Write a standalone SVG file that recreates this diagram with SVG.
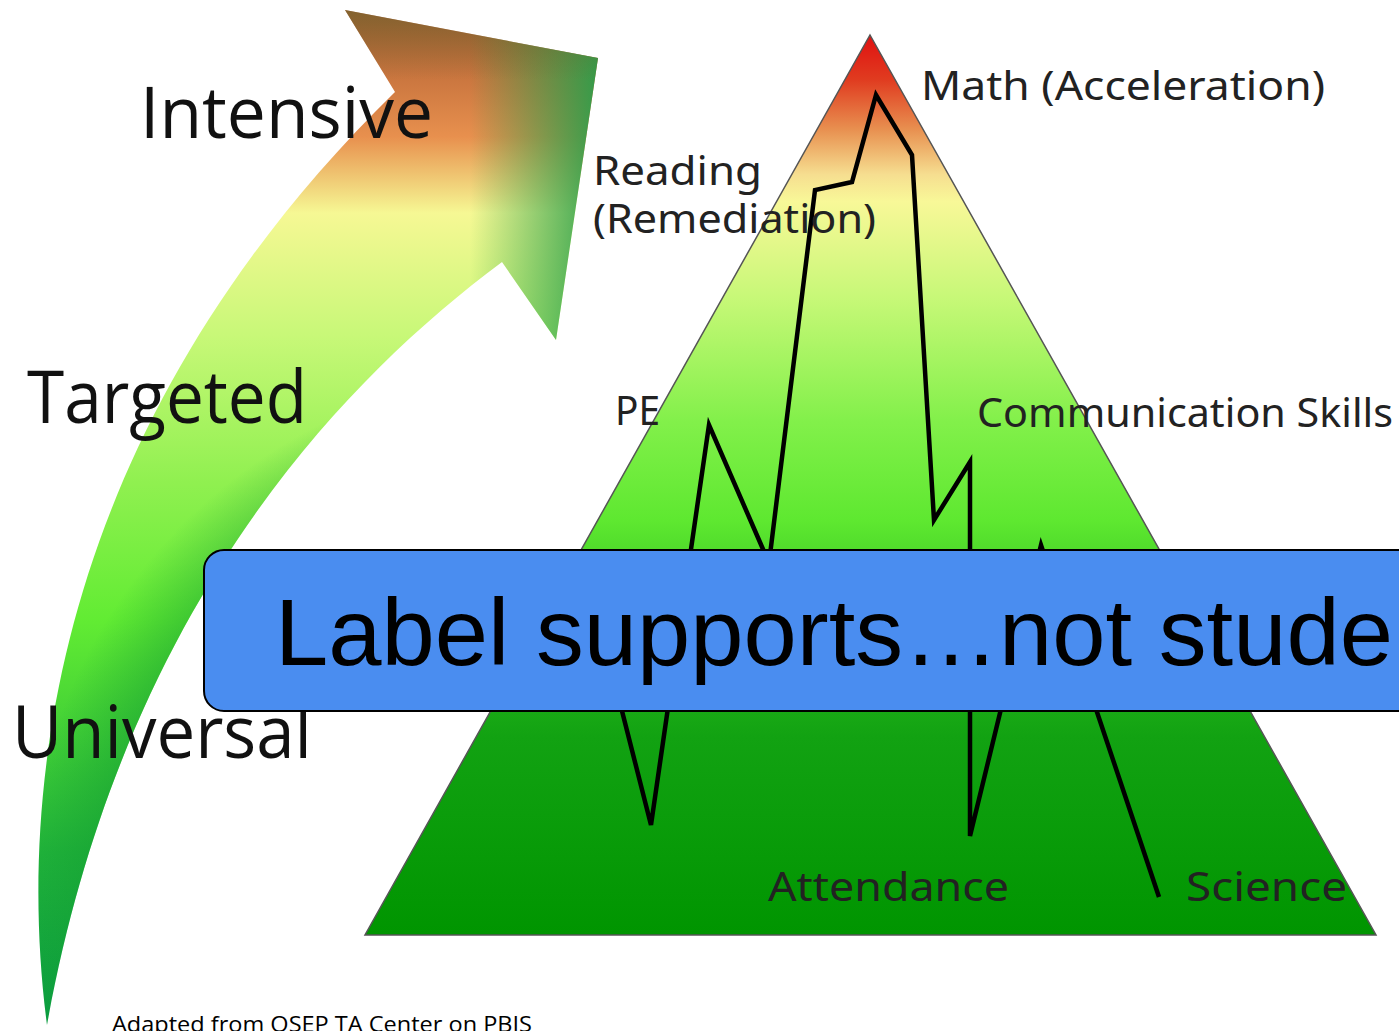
<svg xmlns="http://www.w3.org/2000/svg" width="1399" height="1031" viewBox="0 0 1399 1031">
  <style>
    .tier { font-family: "Open Sans", "Liberation Sans", sans-serif; fill: #111; }
    .lbl { font-family: "Noto Sans", "DejaVu Sans", sans-serif; fill: #222; font-size: 40px; }
    .zig { fill: none; stroke: #000; stroke-width: 4.5; stroke-linejoin: miter; stroke-linecap: butt; }
  </style>
  <defs>
    <linearGradient id="arrowGrad" gradientUnits="userSpaceOnUse" x1="0" y1="1025" x2="0" y2="10">
      <stop offset="0" stop-color="#0a9c40"/>
      <stop offset="0.17" stop-color="#20b23a"/>
      <stop offset="0.40" stop-color="#62ec33"/>
      <stop offset="0.535" stop-color="#90f050"/>
      <stop offset="0.68" stop-color="#c8f878"/>
      <stop offset="0.80" stop-color="#f6f894"/>
      <stop offset="0.875" stop-color="#e8904e"/>
      <stop offset="1" stop-color="#a8582e"/>
    </linearGradient>
    <linearGradient id="headRight" gradientUnits="userSpaceOnUse" x1="470" y1="0" x2="600" y2="0">
      <stop offset="0" stop-color="#2a9e4a" stop-opacity="0"/>
      <stop offset="1" stop-color="#2a9e4a" stop-opacity="0.95"/>
    </linearGradient>
    <linearGradient id="headTop" gradientUnits="userSpaceOnUse" x1="0" y1="10" x2="0" y2="80">
      <stop offset="0" stop-color="#6a6a30" stop-opacity="0.6"/>
      <stop offset="1" stop-color="#6a6a30" stop-opacity="0"/>
    </linearGradient>
    <radialGradient id="innerShade" gradientUnits="userSpaceOnUse" cx="560" cy="900" r="620">
      <stop offset="0.72" stop-color="#109a30" stop-opacity="0.55"/>
      <stop offset="0.86" stop-color="#109a30" stop-opacity="0"/>
    </radialGradient>
    <linearGradient id="pyrGrad" gradientUnits="userSpaceOnUse" x1="0" y1="35" x2="0" y2="935">
      <stop offset="0" stop-color="#e01010"/>
      <stop offset="0.05" stop-color="#e03c20"/>
      <stop offset="0.105" stop-color="#e89050"/>
      <stop offset="0.155" stop-color="#f6de90"/>
      <stop offset="0.185" stop-color="#f8f898"/>
      <stop offset="0.29" stop-color="#c8f878"/>
      <stop offset="0.43" stop-color="#82f04a"/>
      <stop offset="0.54" stop-color="#5ee830"/>
      <stop offset="0.65" stop-color="#30c020"/>
      <stop offset="0.78" stop-color="#12a212"/>
      <stop offset="1" stop-color="#009500"/>
    </linearGradient>
    <path id="arrowPath" d="M345,10 L598,58 L556,340 L502,262 C330,390 120,620 47,1025 C15,780 60,420 395,92 Z"/>
  </defs>

  <rect x="0" y="0" width="1399" height="1031" fill="#ffffff"/>

  <g id="arrow">
    <use href="#arrowPath" fill="url(#arrowGrad)"/>
    <use href="#arrowPath" fill="url(#innerShade)"/>
    <use href="#arrowPath" fill="url(#headRight)"/>
    <use href="#arrowPath" fill="url(#headTop)"/>
  </g>

  <g id="pyramid">
    <polygon points="870,35 1376,935 365,935" fill="url(#pyrGrad)" stroke="#555" stroke-width="1.5"/>
  </g>

  <g id="connectors">
    <polyline class="zig" points="590,585 651,825 709,425 769,563 815,190 852,182 876,95 912,155 934,520 970,462 970,836 1041,545 1159,897"/>
  </g>

  <g id="tier-labels">
    <text id="intensive" class="tier" x="140" y="138" font-size="72" textLength="293" lengthAdjust="spacingAndGlyphs">Intensive</text>
    <text id="targeted" class="tier" x="27" y="423" font-size="74" textLength="280" lengthAdjust="spacingAndGlyphs">Targeted</text>
    <text id="universal" class="tier" x="12" y="758" font-size="73" textLength="300" lengthAdjust="spacingAndGlyphs">Universal</text>
  </g>

  <g id="subject-labels">
    <text id="math" class="lbl" x="921" y="100" textLength="404" lengthAdjust="spacingAndGlyphs">Math (Acceleration)</text>
    <text id="reading" class="lbl" x="593" y="185" textLength="169" lengthAdjust="spacingAndGlyphs">Reading</text>
    <text id="remediation" class="lbl" x="593" y="233" textLength="283" lengthAdjust="spacingAndGlyphs">(Remediation)</text>
    <text id="pe" class="lbl" x="615" y="425" textLength="45" lengthAdjust="spacingAndGlyphs">PE</text>
    <text id="comm" class="lbl" x="977" y="427" textLength="416" lengthAdjust="spacingAndGlyphs">Communication Skills</text>
    <text id="attendance" class="lbl" x="768" y="901" textLength="241" lengthAdjust="spacingAndGlyphs">Attendance</text>
    <text id="science" class="lbl" x="1186" y="901" textLength="161" lengthAdjust="spacingAndGlyphs">Science</text>
  </g>

  <g id="banner">
    <rect x="204" y="550" width="1260" height="161" rx="20" ry="20" fill="#4a8df0" stroke="#000" stroke-width="2"/>
    <text x="275" y="665" font-family="'Liberation Sans', Arial, sans-serif" font-size="95" fill="#000" textLength="1118" lengthAdjust="spacingAndGlyphs">Label supports…not stude</text>
  </g>

  <g id="footer">
    <text x="112" y="1032" font-family="'Open Sans', 'Liberation Sans', sans-serif" font-size="21" fill="#000" textLength="420" lengthAdjust="spacingAndGlyphs">Adapted from OSEP TA Center on PBIS</text>
  </g>
</svg>
